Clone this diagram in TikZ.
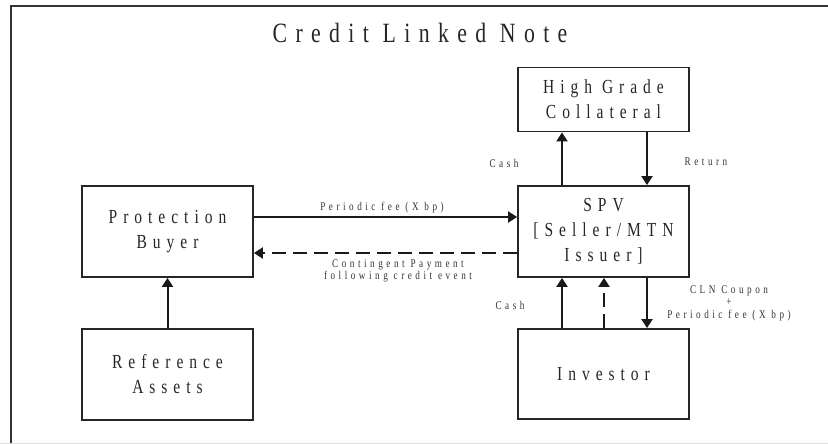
\documentclass[tikz,border=0pt]{standalone}
\usepackage{fontspec}
\usetikzlibrary{arrows.meta}
\newfontfamily\spacedserif[FakeStretch=0.78,LetterSpace=30]{Liberation Serif}
\begin{document}
\begin{tikzpicture}[x=1bp,y=-1bp,
  box/.style={draw=black!85,line width=1.8bp,minimum width=171bp,inner sep=0pt,
    align=center,text=black!85,font=\spacedserif\fontsize{20}{25}\selectfont},
  flow/.style={draw=black!90,line width=2bp,-{Triangle[length=9bp,width=11bp]}},
  dflow/.style={flow,dash pattern=on 14bp off 7bp},
  lbl/.style={text=black!80,inner sep=0pt,align=center,
    font=\spacedserif\fontsize{11.8}{12.5}\selectfont}]
  \useasboundingbox (0,0) rectangle (828,444);
  % page frame
  \draw[black!80,line width=2.5bp] (11,443) -- (11,6) -- (828,6);
  \draw[black!12,line width=1bp] (0,443) -- (828,443);
  % title
  \node[text=black!85,font=\spacedserif\fontsize{28}{30}\selectfont] (title) at (420,33) {Credit Linked Note};
  % boxes
  \node[box,minimum height=64bp] (hgc) at (603.5,99.5) {High Grade\\Collateral};
  \node[box,minimum height=91bp] (spv) at (603.5,231.5) {SPV\\{}[Seller/MTN\\Issuer]};
  \node[box,minimum height=90bp] (inv) at (603.5,374) {Investor};
  \node[box,minimum height=91bp] (pb) at (167.5,231.5) {Protection\\Buyer};
  \node[box,minimum height=91bp] (ra) at (167.5,374.5) {Reference\\Assets};
  % connector columns and rows
  \coordinate (cl) at (562,0);
  \coordinate (cm) at (604,0);
  \coordinate (cr) at (647,0);
  \coordinate (rf) at (0,217);
  \coordinate (rd) at (0,253);
  % connectors
  \draw[flow] (ra) -- (pb);
  \draw[flow] (pb.east |- rf) -- (spv.west |- rf);
  \draw[dflow] (spv.west |- rd) -- (pb.east |- rd);
  \draw[flow] (spv.north -| cl) -- (hgc.south -| cl);
  \draw[flow] (hgc.south -| cr) -- (spv.north -| cr);
  \draw[flow] (inv.north -| cl) -- (spv.south -| cl);
  \draw[dflow] (inv.north -| cm) -- (spv.south -| cm);
  \draw[flow] (spv.south -| cr) -- (inv.north -| cr);
  % labels
  \node[lbl] (lfee) at (382,208) {Periodic fee (X bp)};
  \node[lbl] (lcont) at (398,271) {Contingent Payment\\following credit event};
  \node[lbl] (lcash1) at (504,163) {Cash};
  \node[lbl] (lret) at (706,162) {Return};
  \node[lbl] (lcash2) at (510,305) {Cash};
  \node[lbl] (lcln) at (729,303) {CLN Coupon\\+\\Periodic fee (X bp)};
\end{tikzpicture}
\end{document}
